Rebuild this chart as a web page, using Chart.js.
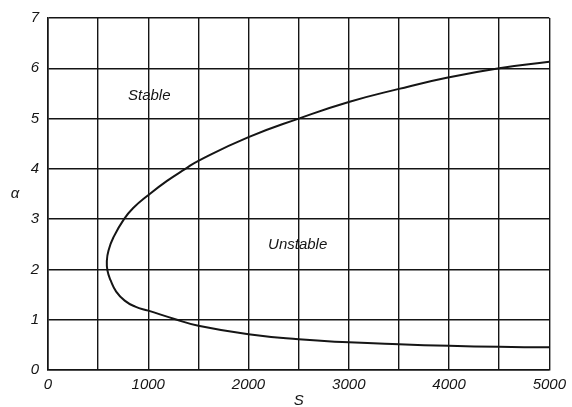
<!DOCTYPE html>
<html>
<head>
<meta charset="utf-8">
<script src="https://cdn.jsdelivr.net/npm/chart.js@4/dist/chart.umd.min.js"></script>
<style>
  html, body { margin: 0; padding: 0; background: #fff; }
  #wrap { width: 572px; height: 407px; }
</style>
</head>
<body>
<div id="wrap"><canvas id="c" width="572" height="407"></canvas></div>
<script>
// Stability boundary, traced along the curve from upper-right, round the nose, to lower-right
const curveS     = [5000, 4500, 4000, 3500, 3000, 2500, 2000, 1500, 1370, 1187, 995, 855, 758, 653, 603, 587, 593, 625, 680, 765, 870, 1000, 1270, 1500, 2000, 2500, 3000, 3500, 4000, 4500, 5000];
const curveAlpha = [6.13, 6.00, 5.82, 5.59, 5.33, 5.00, 4.63, 4.16, 4.00, 3.76, 3.47, 3.23, 3.00, 2.64, 2.37, 2.17, 1.98, 1.78, 1.56, 1.38, 1.26, 1.18, 1.01, 0.88, 0.71, 0.61, 0.55, 0.51, 0.48, 0.46, 0.45];

const xLabelValues = [0, 1000, 2000, 3000, 4000, 5000];
const regionLabels = ['Stable', 'Unstable'];
const regionS      = [1010, 2490];
const regionAlpha  = [5.46, 2.49];
const xTitle = 'S';
const yTitle = 'α';

const FONT = '"Liberation Sans", Arial, sans-serif';
const INK = '#151515';

const points = curveS.map((s, i) => ({ x: s, y: curveAlpha[i] }));

const textPlugin = {
  id: 'textPlugin',
  afterDraw(chart) {
    const { ctx, chartArea, scales } = chart;
    ctx.save();
    ctx.fillStyle = INK;
    ctx.textAlign = 'center';
    ctx.textBaseline = 'middle';
    ctx.font = 'italic 15px ' + FONT;
    regionLabels.forEach((t, i) => {
      ctx.fillText(t, scales.x.getPixelForValue(regionS[i]), scales.y.getPixelForValue(regionAlpha[i]));
    });
    ctx.fillText(yTitle, 15, (chartArea.top + chartArea.bottom) / 2);
    ctx.fillText(xTitle, (chartArea.left + chartArea.right) / 2, 401);
    ctx.restore();
  }
};

new Chart(document.getElementById('c'), {
  type: 'scatter',
  data: {
    datasets: [{
      data: points,
      showLine: true,
      borderColor: INK,
      borderWidth: 2,
      pointRadius: 0,
      fill: false,
      tension: 0.5
    }]
  },
  options: {
    responsive: false,
    animation: false,
    events: [],
    layout: { padding: { top: 16, right: 22, left: 0, bottom: 0 } },
    plugins: { legend: { display: false }, tooltip: { enabled: false } },
    scales: {
      x: {
        type: 'linear',
        min: 0, max: 5000,
        afterFit(s) { s.height = 37; },
        afterBuildTicks(s) {
          const t = [];
          for (let v = 0; v <= 5000; v += 500) t.push({ value: v });
          s.ticks = t;
        },
        ticks: {
          autoSkip: false, maxRotation: 0, padding: 6,
          color: INK,
          font: { family: FONT, size: 15, style: 'italic' },
          callback: (v) => xLabelValues.includes(v) ? String(v) : ''
        },
        grid: { color: INK, lineWidth: 1.4, drawTicks: false },
        border: { color: INK, width: 1.6 }
      },
      y: {
        type: 'linear',
        min: 0, max: 7,
        afterFit(s) { s.width = 48; },
        ticks: {
          stepSize: 1, padding: 9,
          color: INK,
          font: { family: FONT, size: 15, style: 'italic' }
        },
        grid: { color: INK, lineWidth: 1.4, drawTicks: false },
        border: { color: INK, width: 1.6 }
      }
    }
  },
  plugins: [textPlugin]
});
</script>
</body>
</html>
